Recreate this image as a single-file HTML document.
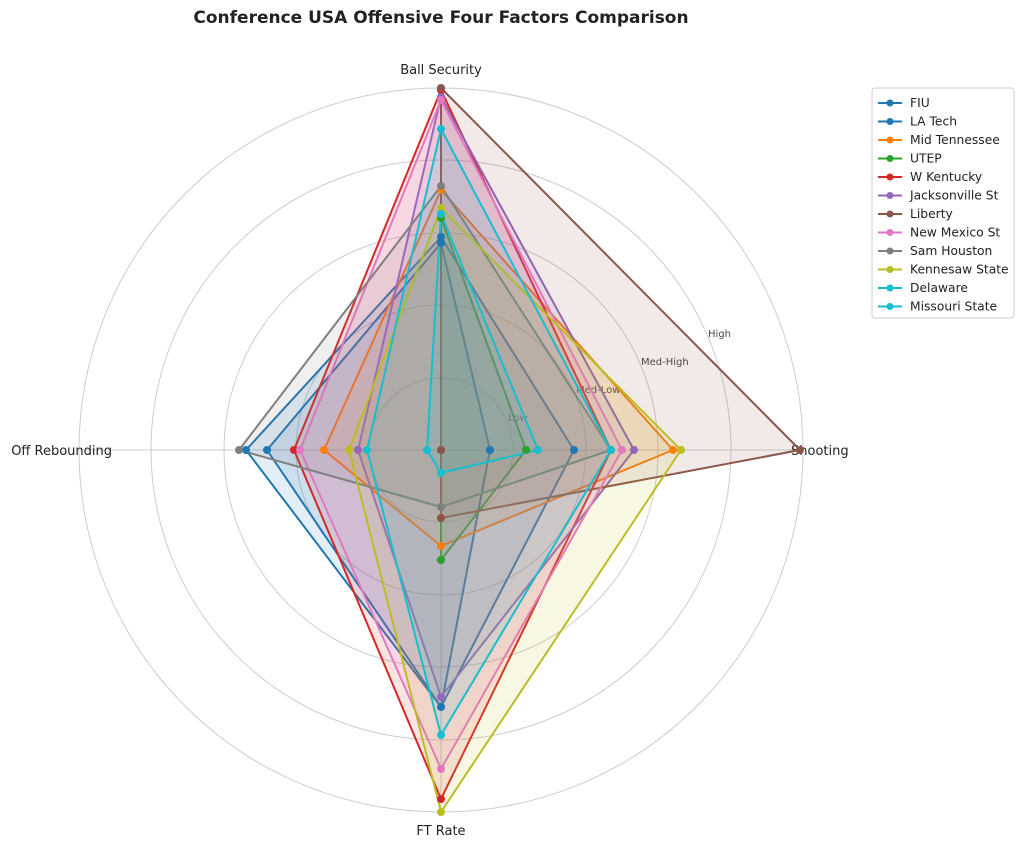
<!DOCTYPE html>
<html><head><meta charset="utf-8"><style>body{margin:0;background:#fff}svg{display:block;font-family:"DejaVu Sans","Liberation Sans",sans-serif}</style></head><body>
<svg width="1024" height="846" viewBox="0 0 1024 846">
<text x="441" y="23" text-anchor="middle" font-size="17" font-weight="bold" fill="#222">Conference USA Offensive Four Factors Comparison</text>
<g fill="none" stroke="#ccc" stroke-width="1">
<circle cx="441" cy="450" r="72"/><circle cx="441" cy="450" r="145"/><circle cx="441" cy="450" r="217"/><circle cx="441" cy="450" r="290"/><circle cx="441" cy="450" r="362"/>
<line x1="441" y1="450" x2="441" y2="88"/><line x1="441" y1="450" x2="803" y2="450"/><line x1="441" y1="450" x2="441" y2="812"/><line x1="441" y1="450" x2="79" y2="450"/>
</g>
<g font-size="10" fill="#444"><text x="508" y="421">Low</text><text x="576" y="393">Med-Low</text><text x="641" y="365">Med-High</text><text x="708" y="337">High</text></g>
<g font-size="13" fill="#222"><text x="441" y="74" text-anchor="middle">Ball Security</text><text x="791" y="455">Shooting</text><text x="441" y="835" text-anchor="middle">FT Rate</text><text x="112" y="455" text-anchor="end">Off Rebounding</text></g>
<g stroke-width="2" stroke-linejoin="round" fill-opacity="0.12">
<polygon points="441,237 574,450 441,707 246,450" fill="#1f77b4" stroke="#1f77b4"/>
<polygon points="441,243 490,450 441,707 267,450" fill="#1f77b4" stroke="#1f77b4"/>
<polygon points="441,190 673,450 441,546 324,450" fill="#ff7f0e" stroke="#ff7f0e"/>
<polygon points="441,218 526,450 441,560 441,450" fill="#2ca02c" stroke="#2ca02c"/>
<polygon points="441,90 611,450 441,799 294,450" fill="#d62728" stroke="#d62728"/>
<polygon points="441,97 634,450 441,697 358,450" fill="#9467bd" stroke="#9467bd"/>
<polygon points="441,88 800,450 441,518 441,450" fill="#8c564b" stroke="#8c564b"/>
<polygon points="441,100 622,450 441,769 300,450" fill="#e377c2" stroke="#e377c2"/>
<polygon points="441,186 611,450 441,507 239,450" fill="#7f7f7f" stroke="#7f7f7f"/>
<polygon points="441,208 681,450 441,812 349,450" fill="#bcbd22" stroke="#bcbd22"/>
<polygon points="441,129 611,450 441,735 367,450" fill="#17becf" stroke="#17becf"/>
<polygon points="441,214 538,450 441,473 427,450" fill="#17becf" stroke="#17becf"/>
</g>
<g>
<g fill="#1f77b4"><circle cx="441" cy="237" r="4"/><circle cx="574" cy="450" r="4"/><circle cx="441" cy="707" r="4"/><circle cx="246" cy="450" r="4"/><circle cx="441" cy="243" r="4"/><circle cx="490" cy="450" r="4"/><circle cx="267" cy="450" r="4"/></g>
<g fill="#ff7f0e"><circle cx="441" cy="190" r="4"/><circle cx="673" cy="450" r="4"/><circle cx="441" cy="546" r="4"/><circle cx="324" cy="450" r="4"/></g>
<g fill="#2ca02c"><circle cx="441" cy="218" r="4"/><circle cx="526" cy="450" r="4"/><circle cx="441" cy="560" r="4"/></g>
<g fill="#d62728"><circle cx="441" cy="90" r="4"/><circle cx="611" cy="450" r="4"/><circle cx="441" cy="799" r="4"/><circle cx="294" cy="450" r="4"/></g>
<g fill="#9467bd"><circle cx="441" cy="97" r="4"/><circle cx="634" cy="450" r="4"/><circle cx="441" cy="697" r="4"/><circle cx="358" cy="450" r="4"/></g>
<g fill="#8c564b"><circle cx="441" cy="88" r="4"/><circle cx="800" cy="450" r="4"/><circle cx="441" cy="518" r="4"/><circle cx="441" cy="450" r="4"/></g>
<g fill="#e377c2"><circle cx="441" cy="100" r="4"/><circle cx="622" cy="450" r="4"/><circle cx="441" cy="769" r="4"/><circle cx="300" cy="450" r="4"/></g>
<g fill="#7f7f7f"><circle cx="441" cy="186" r="4"/><circle cx="441" cy="507" r="4"/><circle cx="239" cy="450" r="4"/></g>
<g fill="#bcbd22"><circle cx="441" cy="208" r="4"/><circle cx="681" cy="450" r="4"/><circle cx="441" cy="812" r="4"/><circle cx="349" cy="450" r="4"/></g>
<g fill="#17becf"><circle cx="441" cy="129" r="4"/><circle cx="611" cy="450" r="4"/><circle cx="441" cy="735" r="4"/><circle cx="367" cy="450" r="4"/><circle cx="441" cy="214" r="4"/><circle cx="538" cy="450" r="4"/><circle cx="441" cy="473" r="4"/><circle cx="427" cy="450" r="4"/></g>
</g>
<g transform="translate(872,88)">
<rect x="0" y="0" width="142" height="230" rx="3" fill="#fff" stroke="#ccc"/>
<g font-size="12.3" fill="#222" stroke-width="2">
<line x1="6" x2="30" y1="15" y2="15" stroke="#1f77b4"/><circle cx="18" cy="15" r="3.5" fill="#1f77b4"/><text x="38" y="19">FIU</text>
<line x1="6" x2="30" y1="33.5" y2="33.5" stroke="#1f77b4"/><circle cx="18" cy="33.5" r="3.5" fill="#1f77b4"/><text x="38" y="37.5">LA Tech</text>
<line x1="6" x2="30" y1="52" y2="52" stroke="#ff7f0e"/><circle cx="18" cy="52" r="3.5" fill="#ff7f0e"/><text x="38" y="56">Mid Tennessee</text>
<line x1="6" x2="30" y1="70.5" y2="70.5" stroke="#2ca02c"/><circle cx="18" cy="70.5" r="3.5" fill="#2ca02c"/><text x="38" y="74.5">UTEP</text>
<line x1="6" x2="30" y1="89" y2="89" stroke="#d62728"/><circle cx="18" cy="89" r="3.5" fill="#d62728"/><text x="38" y="93">W Kentucky</text>
<line x1="6" x2="30" y1="107.5" y2="107.5" stroke="#9467bd"/><circle cx="18" cy="107.5" r="3.5" fill="#9467bd"/><text x="38" y="111.5">Jacksonville St</text>
<line x1="6" x2="30" y1="126" y2="126" stroke="#8c564b"/><circle cx="18" cy="126" r="3.5" fill="#8c564b"/><text x="38" y="130">Liberty</text>
<line x1="6" x2="30" y1="144.5" y2="144.5" stroke="#e377c2"/><circle cx="18" cy="144.5" r="3.5" fill="#e377c2"/><text x="38" y="148.5">New Mexico St</text>
<line x1="6" x2="30" y1="163" y2="163" stroke="#7f7f7f"/><circle cx="18" cy="163" r="3.5" fill="#7f7f7f"/><text x="38" y="167">Sam Houston</text>
<line x1="6" x2="30" y1="181.5" y2="181.5" stroke="#bcbd22"/><circle cx="18" cy="181.5" r="3.5" fill="#bcbd22"/><text x="38" y="185.5">Kennesaw State</text>
<line x1="6" x2="30" y1="200" y2="200" stroke="#17becf"/><circle cx="18" cy="200" r="3.5" fill="#17becf"/><text x="38" y="204">Delaware</text>
<line x1="6" x2="30" y1="218.5" y2="218.5" stroke="#17becf"/><circle cx="18" cy="218.5" r="3.5" fill="#17becf"/><text x="38" y="222.5">Missouri State</text>
</g>
</g>
</svg>
</body></html>
